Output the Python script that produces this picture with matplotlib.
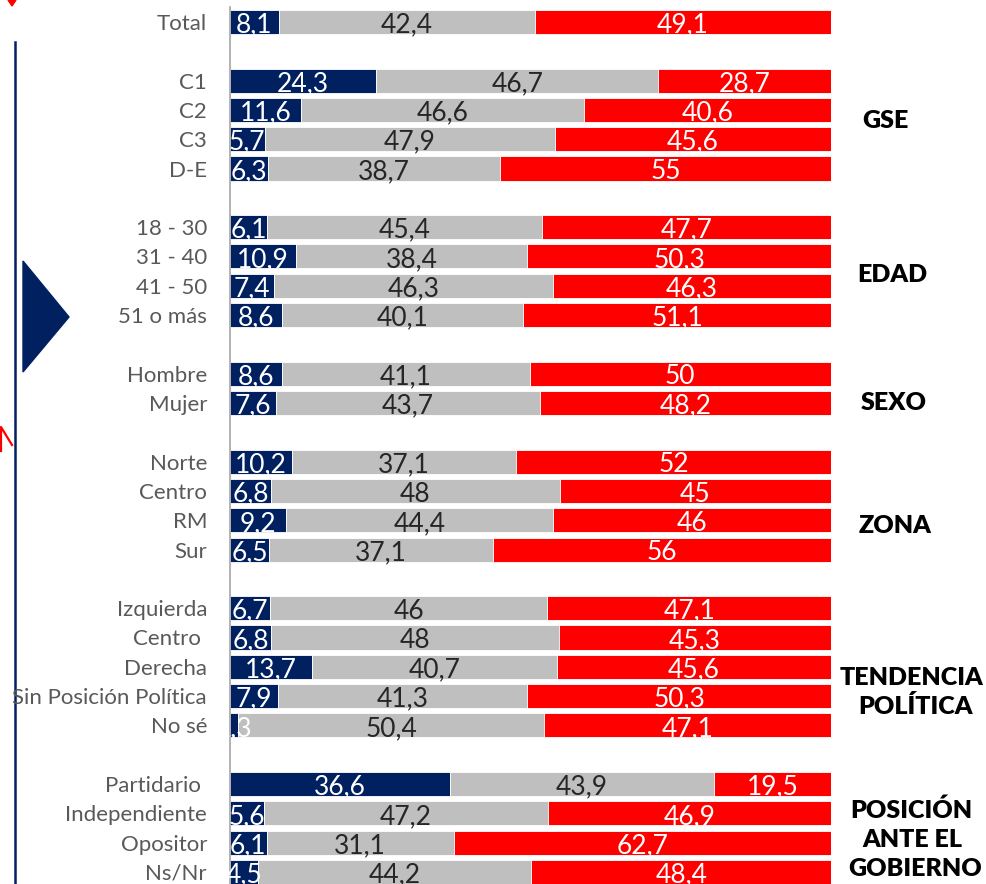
import matplotlib
matplotlib.use("Agg")
import matplotlib.pyplot as plt
from matplotlib.patches import Polygon
from matplotlib.lines import Line2D

# ---------------- data ----------------
categories = ["Total",
              "C1", "C2", "C3", "D-E",
              "18 - 30", "31 - 40", "41 - 50", "51 o más",
              "Hombre", "Mujer",
              "Norte", "Centro", "RM", "Sur",
              "Izquierda", "Centro ", "Derecha", "Sin Posición Política", "No sé",
              "Partidario ", "Independiente", "Opositor", "Ns/Nr"]
group_sizes = [1, 4, 4, 2, 4, 5, 4]
blue_vals = [8.1,
             24.3, 11.6, 5.7, 6.3,
             6.1, 10.9, 7.4, 8.6,
             8.6, 7.6,
             10.2, 6.8, 9.2, 6.5,
             6.7, 6.8, 13.7, 7.9, 1.3,
             36.6, 5.6, 6.1, 4.5]
gray_vals = [42.4,
             46.7, 46.6, 47.9, 38.7,
             45.4, 38.4, 46.3, 40.1,
             41.1, 43.7,
             37.1, 48, 44.4, 37.1,
             46, 48, 40.7, 41.3, 50.4,
             43.9, 47.2, 31.1, 44.2]
red_vals = [49.1,
            28.7, 40.6, 45.6, 55,
            47.7, 50.3, 46.3, 51.1,
            50, 48.2,
            52, 45, 46, 56,
            47.1, 45.3, 45.6, 50.3, 47.1,
            19.5, 46.9, 62.7, 48.4]
group_labels = [None, ["GSE"], ["EDAD"], ["SEXO"], ["ZONA"],
                ["TENDENCIA", "POLÍTICA"], ["POSICIÓN", "ANTE EL", "GOBIERNO"]]

NAVY = "#002060"
GRAY = "#BFBFBF"
RED = "#FF0000"

W, H = 986, 884
fig = plt.figure(figsize=(W / 100, H / 100), dpi=100)

# overlay axes in pixel coordinates for decorations & group titles
ov = fig.add_axes([0, 0, 1, 1], zorder=0)
ov.set_xlim(0, W)
ov.set_ylim(H, 0)
ov.axis("off")

# row positions (gap row between groups)
ypos = []
k = 0
for gi, n in enumerate(group_sizes):
    for j in range(n):
        ypos.append(k)
        k += 1
    k += 1

# main axes
top_px = 7.3
ax = fig.add_axes([230 / W, 0, 601 / W, (H - top_px) / H], zorder=1)
ax.patch.set_alpha(0)
row_h = 29.31
ax.set_ylim((H - 22) / row_h, -0.5)
ax.set_xlim(0, 100)

tot = [b + g + r for b, g, r in zip(blue_vals, gray_vals, red_vals)]
bp = [100 * b / t for b, t in zip(blue_vals, tot)]
gp = [100 * g / t for g, t in zip(gray_vals, tot)]
rp = [100 * r / t for r, t in zip(red_vals, tot)]
gl = bp
rl = [a + b for a, b in zip(bp, gp)]

bh = 0.82
ax.barh(ypos, bp, height=bh, color=NAVY, edgecolor="white", linewidth=0.6, zorder=2)
ax.barh(ypos, gp, left=gl, height=bh, color=GRAY, edgecolor="white", linewidth=0.6, zorder=2)
ax.barh(ypos, rp, left=rl, height=bh, color=RED, edgecolor="white", linewidth=0.6, zorder=2)

def fmt(v):
    return f"{v:g}".replace(".", ",")

lab_font = dict(family="Lato", fontsize=19, va="center_baseline", ha="center", zorder=4)
for y, b, g, r, vb, vg, vr, l2, l3 in zip(ypos, bp, gp, rp, blue_vals, gray_vals, red_vals, gl, rl):
    ax.text(b / 2, y + 0.02, fmt(vb), color="white", **lab_font)
    ax.text(l2 + g / 2, y + 0.02, fmt(vg), color="#262626", **lab_font)
    ax.text(l3 + r / 2, y + 0.02, fmt(vr), color="white", **lab_font)

ax.set_yticks(ypos)
ax.set_yticklabels(categories, family="Lato", fontsize=16, color="#595959")
ax.tick_params(axis="y", length=0, pad=16.5)
ax.tick_params(axis="x", bottom=False, labelbottom=False)
for s in ["top", "right", "bottom"]:
    ax.spines[s].set_visible(False)
ax.spines["left"].set_color("#A6A6A6")
ax.spines["left"].set_linewidth(1.2)
ax.spines["left"].set_zorder(3)

# decorations (cropped slide elements)
ov.add_patch(Polygon([[8, 0], [16, 0], [12, 6]], closed=True, color=RED))
ov.add_line(Line2D([15, 15], [42, H], color=NAVY, linewidth=1.8))
ov.add_patch(Polygon([[23, 261], [69, 317], [23, 372]], closed=True, color=NAVY))
ov.add_line(Line2D([1, 1, 12], [451, 427, 445], color=RED, linewidth=1.6))

# group titles
title_pos = {
    "GSE": (885, 121), "EDAD": (892, 275), "SEXO": (894, 403), "ZONA": (895, 526),
    "TENDENCIA": (911, 678), "POLÍTICA": (915, 707),
    "POSICIÓN": (911, 810), "ANTE EL": (912, 840), "GOBIERNO": (915, 869),
}
for g in group_labels:
    if not g:
        continue
    for line in g:
        x, y = title_pos[line]
        ov.text(x, y, line, family="Lato", fontweight="heavy", fontsize=18,
                color="black", ha="center", va="center")

fig.savefig("out.png", dpi=100, facecolor="white")
